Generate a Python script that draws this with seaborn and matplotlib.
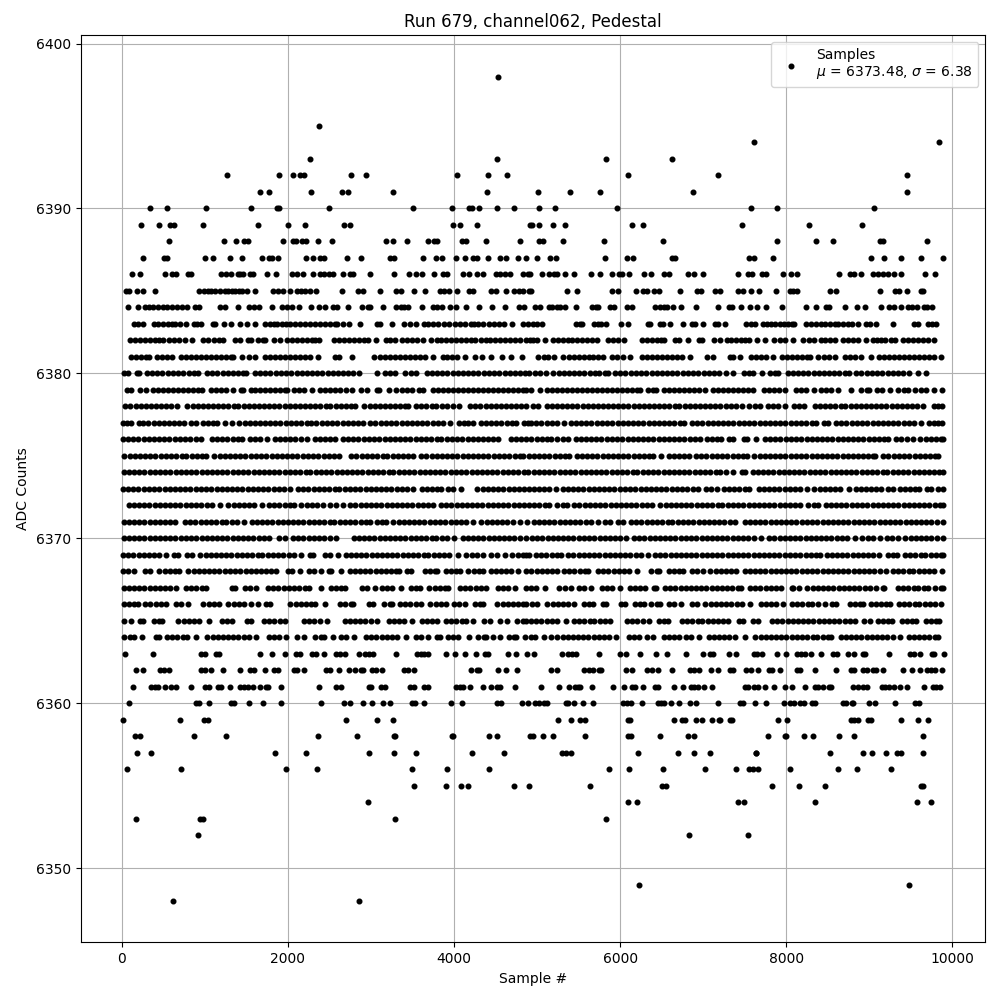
#!/usr/bin/env python3
# coding=utf-8
from matplotlib import pyplot as plt
import pandas as pd
import seaborn as sns

# sample numbers, one list per ADC level
adc_6398 = [4527]
adc_6395 = [2374]
adc_6394 = [7607, 9844]
adc_6393 = [2265, 4515, 5826, 6620]
adc_6392 = [1267, 1892, 2061, 2145, 2193, 2758, 2939, 4034, 4407, 4635, 6091, 7174, 9459]
adc_6391 = [1664, 1772, 2277, 2650, 2722, 3264, 4395, 5008, 5393, 5754, 6873, 9459]
adc_6390 = [340, 545, 1014, 1556, 1868, 1892, 2494, 3504, 3974, 4178, 4214, 4298, 4519, 4720,
            5020, 5213, 5959, 7571, 7895, 9062]
adc_6389 = [232, 449, 581, 629, 978, 1640, 2001, 2205, 2674, 2746, 3986, 4070, 4274, 4912, 4936,
            5020, 5189, 5333, 6139, 6271, 7462, 8280, 8918]
adc_6388 = [569, 1231, 1375, 1471, 1519, 1941, 2061, 2097, 2169, 2217, 2361, 2530, 3180, 3264,
            3432, 3685, 3757, 3793, 4094, 4142, 4383, 4791, 5020, 5068, 5309, 5802, 6512, 7895,
            8353, 8569, 9130, 9170, 9700]
adc_6387 = [256, 509, 545, 1002, 1098, 1303, 1447, 1688, 1772, 1808, 1880, 2217, 2301, 2385, 2434,
            2710, 2879, 3228, 3276, 3625, 3781, 3853, 4022, 4130, 4226, 4274, 4407, 4551, 4623,
            4767, 4864, 4996, 5160, 5225, 5814, 6079, 6151, 6620, 6656, 7547, 7607, 7847, 9026,
            9183, 9383, 9628, 9893]
adc_6386 = [128, 220, 519, 607, 650, 795, 835, 1191, 1260, 1315, 1400, 1420, 1459, 1540, 1580,
            1755, 1855, 2055, 2107, 2187, 2307, 2390, 2440, 2490, 2545, 2667, 2747, 2787, 2987,
            3279, 3459, 3543, 3615, 3759, 3867, 3919, 4107, 4179, 4275, 4355, 4507, 4560, 4610,
            4680, 4827, 4887, 4920, 5064, 5140, 5200, 5240, 5333, 5441, 5646, 5754, 5898, 5983,
            6023, 6103, 6283, 6368, 6524, 6584, 6813, 6885, 6993, 7414, 7535, 7583, 7703, 7751,
            7956, 8052, 8136, 8641, 8774, 8822, 8906, 9050, 9110, 9170, 9230, 9303, 9383, 9676,
            9796]
adc_6385 = [47, 90, 180, 260, 400, 935, 985, 1035, 1070, 1119, 1187, 1240, 1280, 1330, 1370, 1410,
            1450, 1507, 1607, 1827, 1880, 1945, 2027, 2107, 2160, 2210, 2270, 2345, 2655, 2847,
            2907, 3111, 3307, 3367, 3519, 3651, 3827, 3885, 3945, 4035, 4179, 4227, 4447, 4510,
            4627, 4727, 4780, 4827, 4907, 4932, 5360, 5476, 5908, 5972, 6196, 6280, 6320, 6412,
            6468, 6724, 6928, 6980, 7144, 7200, 7420, 7480, 7576, 7672, 7876, 8044, 8080, 8128,
            8524, 8596, 9124, 9304, 9360, 9460, 9620, 9648]
adc_6384 = [75, 195, 280, 330, 380, 435, 500, 550, 600, 660, 730, 790, 880, 930, 1180, 1247, 1403,
            1530, 1590, 1647, 1815, 1931, 1990, 2050, 2131, 2283, 2379, 2451, 2543, 2590, 2727,
            2895, 2960, 2991, 3147, 3303, 3360, 3400, 3451, 3615, 3743, 3800, 3860, 3951, 4023,
            4147, 4307, 4455, 4611, 4783, 4839, 4980, 5040, 5140, 5185, 5240, 5280, 5340, 5468,
            5660, 5708, 5740, 5880, 5928, 6088, 6140, 6420, 6475, 6530, 6560, 6640, 6736, 6916,
            7180, 7312, 7352, 7460, 7564, 7648, 7756, 7948, 8236, 8360, 8480, 8512, 8708, 8848,
            8944, 9136, 9240, 9300, 9380, 9464, 9520, 9580, 9660, 9700, 9760]
adc_6383 = [143, 200, 251, 383, 440, 500, 560, 600, 645, 700, 770, 871, 907, 955, 1103, 1127, 1231,
            1311, 1423, 1507, 1599, 1723, 1780, 1830, 1875, 1925, 1975, 2030, 2090, 2150, 2210,
            2270, 2330, 2390, 2450, 2510, 2570, 2590, 2663, 2731, 2871, 3071, 3110, 3255, 3403,
            3470, 3539, 3635, 3690, 3750, 3810, 3880, 3939, 4010, 4070, 4130, 4200, 4247, 4287,
            4347, 4419, 4483, 4540, 4600, 4700, 4827, 4887, 4950, 5000, 5065, 5464, 5520, 5544,
            5690, 5730, 5770, 5830, 6008, 6100, 6336, 6356, 6476, 6516, 6604, 6760, 6860, 6900,
            7000, 7140, 7180, 7260, 7512, 7580, 7630, 7720, 7770, 7820, 7870, 7920, 7970, 8020,
            8075, 8090, 8240, 8300, 8360, 8420, 8470, 8530, 8590, 8625, 8680, 8740, 8790, 8860,
            8960, 9010, 9080, 9280, 9536, 9590, 9710, 9750, 9800]
adc_6382 = [95, 155, 215, 275, 335, 395, 455, 500, 570, 630, 690, 765, 843, 983, 1045, 1110, 1170,
            1225, 1367, 1425, 1523, 1551, 1643, 1700, 1731, 1835, 1911, 1990, 2050, 2110, 2170,
            2230, 2290, 2330, 2379, 2555, 2620, 2680, 2740, 2800, 2860, 2920, 2971, 3063, 3181,
            3235, 3287, 3375, 3440, 3500, 3560, 3630, 3727, 3790, 3850, 3910, 3970, 4030, 4090,
            4150, 4200, 4255, 4320, 4380, 4440, 4500, 4560, 4610, 4680, 4740, 4800, 4870, 4910,
            4950, 5000, 5092, 5190, 5250, 5310, 5370, 5420, 5480, 5540, 5600, 5660, 5720, 5856,
            5910, 5970, 6052, 6264, 6320, 6380, 6440, 6490, 6532, 6660, 6710, 6820, 6950, 6990,
            7128, 7200, 7290, 7340, 7400, 7460, 7510, 7550, 7652, 7744, 7852, 7920, 7980, 8080,
            8200, 8280, 8340, 8420, 8470, 8528, 8592, 8680, 8740, 8800, 8860, 8960, 9040, 9090,
            9140, 9190, 9260, 9310, 9410, 9470, 9530, 9590, 9650, 9712, 9780]
adc_6381 = [111, 170, 230, 290, 333, 423, 490, 551, 611, 711, 770, 830, 890, 950, 1010, 1070, 1130,
            1190, 1250, 1310, 1343, 1443, 1535, 1610, 1727, 1787, 1847, 1907, 1967, 2027, 2087,
            2147, 2207, 2267, 2367, 2563, 2611, 2767, 3043, 3110, 3170, 3230, 3290, 3350, 3410,
            3470, 3530, 3590, 3650, 3751, 3863, 3920, 3980, 4040, 4130, 4251, 4343, 4451, 4575,
            4691, 4819, 5016, 5080, 5130, 5200, 5316, 5380, 5440, 5500, 5560, 5620, 5680, 5740,
            5796, 5900, 5968, 6040, 6120, 6264, 6330, 6390, 6450, 6510, 6570, 6630, 6690, 6750,
            6844, 7052, 7120, 7320, 7360, 7440, 7576, 7640, 7700, 7760, 7836, 7948, 8010, 8070,
            8130, 8190, 8250, 8284, 8388, 8450, 8510, 8584, 8704, 8770, 8830, 8896, 9016, 9116,
            9180, 9240, 9300, 9360, 9420, 9480, 9540, 9600, 9660, 9720, 9780, 9864]
adc_6380 = [23, 80, 183, 212, 304, 365, 430, 490, 555, 615, 680, 740, 805, 865, 913, 1026, 1090,
            1150, 1215, 1275, 1340, 1400, 1460, 1495, 1603, 1665, 1730, 1790, 1855, 1915, 1980,
            2040, 2105, 2165, 2230, 2290, 2355, 2415, 2480, 2540, 2605, 2665, 2730, 2790, 2851,
            3070, 3175, 3235, 3291, 3415, 3480, 3543, 3671, 3735, 3795, 3860, 3920, 3985, 4045,
            4110, 4170, 4235, 4295, 4360, 4420, 4485, 4545, 4610, 4670, 4735, 4795, 4860, 4907,
            4970, 5030, 5110, 5196, 5260, 5320, 5385, 5445, 5510, 5570, 5635, 5695, 5744, 5824,
            5856, 5940, 6005, 6065, 6130, 6190, 6255, 6315, 6380, 6440, 6505, 6565, 6630, 6690,
            6755, 6815, 6880, 6940, 7005, 7065, 7130, 7190, 7280, 7364, 7488, 7550, 7604, 7704,
            7804, 7860, 7904, 8016, 8080, 8140, 8205, 8265, 8330, 8390, 8455, 8515, 8580, 8640,
            8705, 8756, 8844, 8905, 8970, 9030, 9095, 9155, 9220, 9280, 9345, 9405, 9484, 9590,
            9684]
adc_6379 = [63, 111, 215, 290, 375, 435, 495, 555, 615, 675, 735, 795, 855, 915, 971, 1071, 1130,
            1190, 1250, 1343, 1431, 1463, 1551, 1610, 1670, 1730, 1790, 1850, 1910, 1970, 1991,
            2075, 2140, 2200, 2291, 2391, 2450, 2510, 2570, 2630, 2700, 2771, 2883, 2959, 3071,
            3103, 3220, 3303, 3370, 3430, 3491, 3575, 3631, 3743, 3810, 3870, 3930, 3990, 4050,
            4110, 4170, 4230, 4290, 4350, 4410, 4470, 4530, 4590, 4650, 4710, 4770, 4830, 4871,
            4930, 5040, 5116, 5180, 5240, 5300, 5360, 5420, 5480, 5540, 5600, 5660, 5720, 5780,
            5840, 5900, 5960, 6020, 6080, 6140, 6200, 6244, 6336, 6400, 6436, 6528, 6590, 6650,
            6710, 6770, 6830, 6890, 6950, 7024, 7116, 7180, 7240, 7300, 7360, 7420, 7480, 7540,
            7604, 7728, 7790, 7850, 7910, 7984, 8116, 8180, 8240, 8332, 8416, 8480, 8540, 8624,
            8780, 8896, 8976, 8996, 9088, 9150, 9252, 9348, 9420, 9464, 9556, 9620, 9680, 9784,
            9880]
adc_6378 = [43, 105, 168, 227, 292, 351, 415, 474, 538, 597, 663, 791, 853, 914, 978, 1037, 1101,
            1160, 1224, 1283, 1347, 1406, 1470, 1529, 1593, 1652, 1716, 1775, 1839, 1898, 1962,
            2021, 2085, 2144, 2208, 2267, 2331, 2390, 2454, 2513, 2577, 2636, 2700, 2759, 2811,
            2923, 2987, 3046, 3110, 3169, 3233, 3292, 3356, 3415, 3451, 3543, 3607, 3666, 3730,
            3789, 3853, 3912, 3983, 4059, 4195, 4259, 4318, 4382, 4441, 4505, 4564, 4628, 4687,
            4751, 4810, 4871, 4950, 5016, 5116, 5180, 5239, 5303, 5362, 5426, 5485, 5549, 5608,
            5672, 5731, 5795, 5854, 5918, 5977, 6041, 6100, 6164, 6223, 6287, 6346, 6410, 6469,
            6533, 6592, 6656, 6715, 6779, 6838, 6902, 6961, 7025, 7084, 7148, 7207, 7271, 7330,
            7394, 7464, 7556, 7620, 7684, 7776, 7840, 7899, 7984, 8096, 8160, 8216, 8344, 8408,
            8467, 8531, 8590, 8654, 8713, 8777, 8836, 8900, 8959, 9023, 9082, 9146, 9205, 9269,
            9328, 9392, 9451, 9515, 9574, 9644, 9784, 9830, 9876]
adc_6377 = [15, 62, 111, 203, 262, 320, 385, 445, 510, 570, 630, 695, 755, 831, 900, 983, 1045,
            1100, 1151, 1247, 1327, 1415, 1480, 1540, 1600, 1665, 1725, 1790, 1850, 1910, 1975,
            2035, 2100, 2160, 2225, 2285, 2345, 2410, 2470, 2535, 2595, 2660, 2720, 2785, 2845,
            2911, 2995, 3055, 3120, 3180, 3245, 3305, 3370, 3430, 3495, 3555, 3620, 3680, 3745,
            3805, 3870, 3951, 4055, 4115, 4175, 4231, 4323, 4385, 4445, 4510, 4570, 4635, 4695,
            4743, 4843, 4890, 4930, 4990, 5050, 5115, 5175, 5240, 5324, 5408, 5470, 5530, 5595,
            5655, 5720, 5780, 5845, 5905, 5970, 6030, 6095, 6155, 6220, 6280, 6345, 6405, 6470,
            6530, 6595, 6655, 6720, 6764, 6868, 6930, 6990, 7055, 7115, 7180, 7240, 7305, 7365,
            7430, 7490, 7555, 7615, 7680, 7740, 7805, 7865, 7930, 7990, 8055, 8115, 8180, 8240,
            8305, 8356, 8456, 8504, 8604, 8665, 8725, 8790, 8850, 8915, 8975, 9040, 9100, 9165,
            9225, 9290, 9350, 9415, 9475, 9544, 9628, 9716, 9780, 9830, 9876]
adc_6376 = [15, 75, 140, 200, 265, 325, 390, 450, 515, 575, 640, 700, 765, 825, 890, 959, 1083,
            1145, 1210, 1270, 1335, 1395, 1451, 1547, 1610, 1670, 1751, 1840, 1903, 1965, 2030,
            2090, 2155, 2231, 2323, 2385, 2450, 2510, 2571, 2663, 2725, 2790, 2850, 2915, 2975,
            3040, 3100, 3165, 3225, 3290, 3350, 3415, 3475, 3540, 3600, 3665, 3725, 3790, 3850,
            3915, 3975, 4040, 4100, 4165, 4225, 4290, 4350, 4415, 4475, 4531, 4683, 4745, 4810,
            4871, 4930, 4995, 5055, 5120, 5164, 5244, 5310, 5372, 5464, 5525, 5590, 5650, 5715,
            5775, 5840, 5900, 5965, 6025, 6090, 6150, 6215, 6275, 6340, 6400, 6465, 6525, 6590,
            6650, 6715, 6775, 6840, 6900, 6964, 7044, 7105, 7165, 7212, 7316, 7364, 7488, 7532,
            7640, 7744, 7805, 7870, 7930, 7995, 8055, 8120, 8180, 8245, 8305, 8370, 8430, 8495,
            8555, 8620, 8680, 8745, 8805, 8870, 8930, 8995, 9055, 9120, 9180, 9224, 9324, 9385,
            9450, 9524, 9616, 9680, 9740, 9805, 9860, 9892]
adc_6375 = [31, 95, 155, 220, 280, 345, 405, 470, 530, 595, 655, 720, 780, 845, 905, 970, 1019,
            1115, 1180, 1240, 1305, 1365, 1430, 1490, 1555, 1615, 1680, 1740, 1805, 1865, 1930,
            1990, 2055, 2115, 2180, 2240, 2305, 2365, 2430, 2490, 2555, 2611, 2763, 2825, 2890,
            2950, 3015, 3075, 3140, 3200, 3265, 3325, 3390, 3450, 3503, 3603, 3665, 3730, 3790,
            3855, 3915, 3980, 4040, 4105, 4165, 4230, 4290, 4355, 4415, 4480, 4540, 4605, 4665,
            4730, 4790, 4831, 4900, 4965, 5025, 5090, 5150, 5215, 5275, 5340, 5384, 5476, 5540,
            5600, 5665, 5725, 5790, 5850, 5915, 5975, 6040, 6100, 6165, 6225, 6290, 6350, 6396,
            6490, 6588, 6650, 6715, 6775, 6824, 6916, 6980, 7040, 7105, 7165, 7230, 7290, 7355,
            7415, 7480, 7532, 7616, 7680, 7740, 7805, 7865, 7930, 7990, 8055, 8115, 8180, 8240,
            8305, 8365, 8430, 8490, 8555, 8615, 8680, 8740, 8805, 8865, 8930, 8990, 9040, 9072,
            9168, 9230, 9295, 9355, 9420, 9480, 9545, 9605, 9670, 9730, 9795, 9832]
adc_6374 = [23, 88, 147, 214, 271, 339, 398, 463, 522, 587, 648, 713, 772, 838, 897, 963, 1022,
            1088, 1147, 1213, 1272, 1338, 1397, 1463, 1522, 1588, 1647, 1713, 1772, 1838, 1897,
            1963, 2022, 2088, 2147, 2213, 2272, 2338, 2397, 2463, 2522, 2588, 2647, 2713, 2772,
            2838, 2897, 2963, 3022, 3088, 3147, 3213, 3272, 3338, 3397, 3463, 3522, 3588, 3647,
            3713, 3772, 3838, 3897, 3963, 4022, 4088, 4147, 4213, 4272, 4338, 4397, 4463, 4522,
            4588, 4647, 4713, 4772, 4838, 4897, 4960, 5025, 5084, 5150, 5209, 5275, 5334, 5400,
            5459, 5525, 5584, 5650, 5709, 5775, 5834, 5900, 5959, 6025, 6084, 6150, 6209, 6275,
            6334, 6400, 6459, 6525, 6584, 6650, 6709, 6775, 6834, 6900, 6959, 7025, 7084, 7150,
            7209, 7275, 7364, 7464, 7504, 7596, 7660, 7719, 7785, 7844, 7910, 7969, 8035, 8094,
            8160, 8219, 8285, 8344, 8410, 8469, 8535, 8594, 8660, 8719, 8785, 8844, 8910, 8969,
            9035, 9094, 9160, 9219, 9285, 9344, 9410, 9469, 9535, 9594, 9660, 9719, 9785, 9844,
            9884]
adc_6373 = [15, 78, 141, 202, 267, 328, 393, 452, 517, 578, 643, 702, 767, 828, 893, 952, 1017,
            1078, 1143, 1202, 1267, 1328, 1393, 1452, 1517, 1578, 1643, 1702, 1767, 1828, 1893,
            1952, 2023, 2123, 2186, 2247, 2312, 2371, 2436, 2497, 2562, 2621, 2686, 2747, 2812,
            2871, 2936, 2997, 3062, 3121, 3186, 3247, 3312, 3371, 3436, 3503, 3615, 3680, 3735,
            3791, 3847, 3923, 3985, 4079, 4283, 4348, 4407, 4472, 4531, 4596, 4657, 4722, 4781,
            4846, 4907, 4960, 5024, 5085, 5150, 5224, 5308, 5372, 5431, 5496, 5557, 5622, 5681,
            5746, 5807, 5872, 5931, 5996, 6057, 6122, 6181, 6246, 6307, 6372, 6431, 6496, 6557,
            6622, 6681, 6746, 6807, 6872, 6944, 7036, 7100, 7164, 7248, 7310, 7375, 7434, 7499,
            7552, 7668, 7731, 7790, 7855, 7916, 7981, 8040, 8105, 8166, 8252, 8340, 8403, 8464,
            8529, 8588, 8653, 8752, 8836, 8900, 8961, 9026, 9085, 9144, 9228, 9284, 9368, 9431,
            9490, 9555, 9604, 9696, 9744, 9828, 9884]
adc_6372 = [83, 146, 207, 272, 331, 396, 457, 522, 581, 646, 707, 772, 831, 896, 957, 1022, 1091,
            1183, 1283, 1346, 1407, 1472, 1531, 1596, 1691, 1775, 1838, 1899, 1964, 2023, 2071,
            2163, 2226, 2287, 2352, 2423, 2511, 2574, 2663, 2751, 2814, 2875, 2940, 2999, 3064,
            3125, 3190, 3249, 3314, 3375, 3440, 3499, 3564, 3625, 3690, 3743, 3843, 3906, 3967,
            4032, 4091, 4156, 4217, 4282, 4341, 4406, 4467, 4532, 4591, 4656, 4717, 4782, 4841,
            4907, 4965, 5026, 5091, 5150, 5236, 5316, 5364, 5448, 5511, 5572, 5637, 5696, 5761,
            5822, 5887, 5946, 6011, 6072, 6137, 6196, 6261, 6322, 6384, 6484, 6547, 6608, 6673,
            6732, 6797, 6858, 6923, 6982, 7047, 7108, 7173, 7232, 7297, 7358, 7423, 7482, 7547,
            7608, 7673, 7732, 7797, 7858, 7923, 7982, 8047, 8108, 8164, 8268, 8331, 8384, 8476,
            8539, 8600, 8665, 8724, 8789, 8850, 8915, 8974, 9039, 9100, 9165, 9224, 9289, 9350,
            9415, 9474, 9539, 9600, 9665, 9724, 9789, 9850, 9892]
adc_6371 = [23, 86, 147, 212, 271, 336, 397, 462, 521, 586, 643, 763, 826, 887, 952, 1011, 1076,
            1137, 1202, 1261, 1326, 1387, 1471, 1563, 1626, 1687, 1752, 1811, 1876, 1937, 2002,
            2061, 2126, 2187, 2252, 2311, 2376, 2437, 2502, 2561, 2626, 2687, 2752, 2811, 2876,
            2937, 2991, 3071, 3130, 3183, 3271, 3334, 3395, 3460, 3519, 3584, 3645, 3710, 3769,
            3834, 3895, 3960, 4019, 4084, 4145, 4231, 4331, 4394, 4455, 4520, 4579, 4644, 4705,
            4791, 4883, 4960, 5021, 5086, 5145, 5210, 5271, 5336, 5395, 5460, 5521, 5586, 5645,
            5732, 5816, 5884, 5980, 6040, 6132, 6196, 6257, 6322, 6381, 6446, 6507, 6572, 6631,
            6696, 6757, 6822, 6881, 6946, 7007, 7072, 7131, 7196, 7257, 7322, 7381, 7500, 7563,
            7624, 7689, 7748, 7813, 7874, 7939, 7998, 8063, 8124, 8189, 8248, 8313, 8374, 8439,
            8498, 8563, 8624, 8689, 8748, 8813, 8874, 8939, 8998, 9063, 9124, 9189, 9248, 9313,
            9374, 9439, 9498, 9563, 9624, 9689, 9748, 9813, 9892]
adc_6370 = [23, 86, 147, 212, 271, 336, 397, 462, 521, 586, 647, 712, 771, 836, 897, 962, 1021,
            1086, 1147, 1212, 1271, 1336, 1397, 1462, 1521, 1586, 1647, 1712, 1771, 1895, 1971,
            2063, 2126, 2187, 2252, 2311, 2376, 2437, 2502, 2583, 2791, 2854, 2915, 2980, 3039,
            3104, 3165, 3230, 3289, 3354, 3415, 3480, 3539, 3604, 3665, 3730, 3789, 3854, 3919,
            4000, 4103, 4166, 4227, 4292, 4351, 4416, 4477, 4542, 4601, 4666, 4727, 4792, 4871,
            4940, 5003, 5064, 5129, 5188, 5253, 5314, 5379, 5438, 5503, 5564, 5629, 5688, 5753,
            5814, 5879, 5938, 6003, 6076, 6168, 6231, 6292, 6357, 6416, 6481, 6542, 6607, 6666,
            6731, 6792, 6857, 6916, 6981, 7042, 7107, 7166, 7231, 7292, 7357, 7416, 7481, 7542,
            7607, 7692, 7796, 7859, 7920, 7985, 8044, 8109, 8170, 8235, 8294, 8359, 8420, 8485,
            8544, 8609, 8670, 8735, 8824, 8916, 8979, 9040, 9124, 9216, 9279, 9344, 9436, 9499,
            9560, 9625, 9684, 9749, 9810, 9884]
adc_6369 = [15, 78, 139, 204, 263, 328, 389, 454, 531, 635, 683, 791, 851, 947, 1010, 1071, 1136,
            1195, 1260, 1321, 1386, 1445, 1510, 1571, 1636, 1695, 1760, 1821, 1886, 1945, 2010,
            2071, 2159, 2263, 2303, 2443, 2506, 2599, 2695, 2758, 2819, 2884, 2943, 3008, 3069,
            3134, 3193, 3258, 3319, 3384, 3443, 3508, 3569, 3634, 3693, 3758, 3819, 3884, 3943,
            4051, 4151, 4214, 4275, 4351, 4451, 4514, 4611, 4703, 4766, 4827, 4871, 4900, 4988,
            5051, 5112, 5177, 5236, 5284, 5376, 5439, 5500, 5565, 5624, 5689, 5750, 5815, 5874,
            5939, 6000, 6065, 6124, 6189, 6250, 6332, 6420, 6483, 6544, 6609, 6668, 6733, 6794,
            6859, 6918, 6983, 7044, 7109, 7168, 7233, 7294, 7359, 7418, 7483, 7544, 7609, 7668,
            7733, 7794, 7859, 7918, 7983, 8044, 8109, 8168, 8233, 8294, 8359, 8404, 8488, 8551,
            8612, 8677, 8736, 8801, 8862, 8927, 8986, 9051, 9116, 9220, 9283, 9336, 9428, 9491,
            9552, 9617, 9676, 9741, 9802, 9867, 9892]
adc_6368 = [15, 80, 143, 283, 343, 455, 518, 579, 644, 691, 803, 866, 927, 992, 1051, 1116, 1177,
            1242, 1301, 1366, 1427, 1492, 1551, 1616, 1677, 1742, 1801, 1859, 2003, 2051, 2150,
            2255, 2318, 2399, 2495, 2519, 2640, 2743, 2806, 2867, 2932, 2991, 3056, 3117, 3182,
            3241, 3306, 3343, 3431, 3479, 3647, 3710, 3771, 3799, 3903, 3966, 4027, 4071, 4175,
            4238, 4299, 4351, 4443, 4506, 4567, 4632, 4691, 4770, 4870, 4932, 4995, 5056, 5121,
            5180, 5244, 5324, 5387, 5448, 5513, 5572, 5616, 5736, 5799, 5860, 5925, 5984, 6049,
            6110, 6204, 6376, 6439, 6464, 6588, 6651, 6712, 6756, 6864, 6927, 7004, 7088, 7151,
            7212, 7277, 7336, 7392, 7500, 7563, 7624, 7689, 7748, 7813, 7874, 7939, 7998, 8063,
            8124, 8189, 8248, 8313, 8374, 8439, 8498, 8563, 8624, 8689, 8748, 8813, 8874, 8939,
            8998, 9063, 9124, 9196, 9284, 9347, 9408, 9473, 9532, 9597, 9658, 9723, 9782, 9876]
adc_6367 = [23, 86, 147, 212, 271, 336, 397, 462, 521, 586, 651, 775, 838, 899, 964, 1011, 1327,
            1363, 1483, 1546, 1619, 1763, 1826, 1887, 1952, 2011, 2076, 2137, 2202, 2251, 2400,
            2519, 2582, 2643, 2691, 2887, 2950, 3051, 3135, 3198, 3259, 3363, 3483, 3546, 3591,
            3703, 3766, 3827, 3892, 3931, 4075, 4138, 4199, 4264, 4323, 4391, 4531, 4594, 4655,
            4739, 4870, 4930, 4984, 5100, 5268, 5331, 5404, 5508, 5571, 5652, 5784, 5847, 5908,
            6004, 6116, 6179, 6240, 6304, 6408, 6436, 6540, 6603, 6664, 6729, 6788, 6853, 6914,
            6979, 7038, 7103, 7164, 7229, 7288, 7353, 7414, 7452, 7564, 7627, 7688, 7753, 7812,
            7877, 7932, 8064, 8084, 8160, 8256, 8319, 8380, 8445, 8504, 8569, 8630, 8695, 8754,
            8819, 8880, 8945, 9004, 9084, 9164, 9176, 9344, 9407, 9468, 9533, 9592, 9657, 9712,
            9796, 9859, 9884]
adc_6366 = [23, 86, 147, 191, 283, 346, 407, 472, 539, 655, 718, 799, 983, 1046, 1107, 1171, 1283,
            1346, 1407, 1472, 1551, 1640, 1735, 1783, 2031, 2094, 2155, 2220, 2279, 2323, 2450,
            2631, 2694, 2755, 2783, 2975, 3023, 3163, 3226, 3251, 3351, 3414, 3475, 3540, 3599,
            3715, 3778, 3839, 3903, 4003, 4066, 4131, 4255, 4318, 4351, 4523, 4586, 4647, 4712,
            4771, 4836, 4871, 4940, 5004, 5124, 5187, 5248, 5313, 5372, 5444, 5568, 5631, 5672,
            5796, 5836, 6012, 6064, 6180, 6243, 6284, 6376, 6439, 6484, 6588, 6651, 6732, 6860,
            6924, 7028, 7091, 7152, 7217, 7276, 7341, 7402, 7467, 7564, 7692, 7755, 7816, 7881,
            7964, 8068, 8131, 8192, 8257, 8316, 8381, 8464, 8556, 8604, 8768, 8831, 8892, 8924,
            9016, 9079, 9140, 9205, 9244, 9356, 9419, 9480, 9545, 9604, 9669, 9730, 9795, 9864]
adc_6365 = [31, 115, 215, 251, 383, 446, 491, 683, 746, 807, 872, 931, 1051, 1203, 1266, 1331,
            1503, 1551, 1715, 1778, 1839, 1904, 1971, 2195, 2258, 2319, 2384, 2471, 2683, 2746,
            2807, 2872, 2931, 2996, 3071, 3215, 3278, 3339, 3404, 3491, 3615, 3678, 3739, 3791,
            3903, 3966, 4027, 4092, 4151, 4231, 4363, 4431, 4550, 4635, 4763, 4826, 4871, 4930,
            4993, 5054, 5119, 5178, 5243, 5344, 5444, 5507, 5568, 5633, 5692, 5757, 5818, 5884,
            6084, 6147, 6208, 6273, 6344, 6468, 6531, 6576, 6744, 6807, 6868, 6933, 6992, 7057,
            7118, 7183, 7242, 7304, 7428, 7484, 7604, 7664, 7828, 7891, 7952, 8017, 8076, 8141,
            8202, 8267, 8326, 8391, 8452, 8517, 8576, 8641, 8702, 8767, 8824, 8936, 9004, 9104,
            9167, 9228, 9272, 9396, 9459, 9520, 9564, 9684, 9747, 9808, 9844]
adc_6364 = [31, 94, 151, 250, 415, 451, 543, 606, 667, 732, 791, 899, 1031, 1094, 1155, 1220, 1279,
            1344, 1405, 1470, 1529, 1611, 1775, 1838, 1891, 1980, 2110, 2200, 2331, 2394, 2431,
            2540, 2639, 2702, 2791, 2943, 3006, 3067, 3132, 3191, 3256, 3317, 3419, 3543, 3606,
            3691, 3795, 3831, 3931, 3994, 4043, 4179, 4295, 4358, 4383, 4470, 4560, 4663, 4726,
            4751, 4860, 4930, 4972, 5088, 5164, 5244, 5307, 5368, 5433, 5492, 5557, 5618, 5683,
            5742, 5807, 5868, 5956, 6108, 6171, 6224, 6324, 6396, 6524, 6587, 6648, 6704, 6788,
            6856, 6950, 7068, 7131, 7192, 7257, 7316, 7384, 7510, 7628, 7691, 7752, 7817, 7876,
            7941, 8002, 8067, 8126, 8191, 8252, 8317, 8376, 8441, 8502, 8544, 8656, 8719, 8780,
            8845, 8904, 8969, 9030, 9095, 9154, 9219, 9280, 9372, 9476, 9539, 9600, 9665, 9724,
            9789, 9824]
adc_6363 = [40, 377, 950, 1000, 1134, 1170, 1664, 1808, 1965, 2097, 2145, 2289, 2337, 2434, 2578,
            2630, 2694, 2855, 2927, 2975, 3024, 3304, 3552, 3600, 3640, 3689, 3901, 4010, 4130,
            4262, 4375, 4411, 4647, 4744, 4880, 4960, 5305, 5368, 5420, 5469, 5742, 6003, 6075,
            6235, 6436, 6564, 6789, 6997, 7080, 7117, 7306, 7398, 7607, 7650, 7707, 7895, 7996,
            8136, 8180, 8232, 8296, 8421, 8569, 8616, 8742, 8822, 8930, 8952, 9243, 9491, 9540,
            9612, 9752, 9780, 9896]
adc_6362 = [172, 256, 461, 510, 569, 954, 1000, 1074, 1223, 1419, 1544, 1590, 1724, 1832, 1880,
            2073, 2107, 2193, 2458, 2506, 2614, 2734, 2806, 2875, 2907, 3011, 3067, 3131, 3396,
            3447, 3516, 4202, 4278, 4307, 4527, 4627, 4764, 5169, 5241, 5562, 5620, 5680, 5742,
            5768, 6075, 6143, 6319, 6380, 6460, 6620, 6845, 6888, 6945, 7089, 7174, 7326, 7360,
            7522, 7576, 7655, 7787, 7832, 7920, 8128, 8168, 8341, 8601, 8782, 8820, 8930, 8968,
            9040, 9080, 9170, 9411, 9520, 9616, 9700, 9740, 9792, 9872]
adc_6361 = [140, 349, 397, 437, 521, 593, 653, 834, 1002, 1050, 1159, 1195, 1303, 1423, 1470, 1519,
            1580, 1664, 1736, 1763, 1916, 2374, 2578, 2638, 2975, 3003, 3119, 3167, 3468, 3516,
            3637, 3685, 4022, 4070, 4107, 4190, 4346, 4443, 4515, 4551, 4732, 5044, 5261, 5381,
            5453, 5492, 5521, 5658, 5910, 6043, 6139, 6180, 6271, 6416, 6460, 6644, 6753, 6849,
            6892, 6940, 7005, 7101, 7506, 7540, 7608, 7660, 7747, 7855, 7980, 8064, 8232, 8341,
            8380, 8449, 8521, 8540, 8810, 8860, 8920, 8970, 9150, 9192, 9240, 9300, 9371, 9459,
            9664, 9772, 9800, 9852]
adc_6360 = [88, 894, 930, 1050, 1315, 1351, 1531, 1696, 1916, 2398, 2674, 2746, 2903, 3011, 3143,
            3228, 3492, 3528, 3637, 3961, 4094, 4515, 4563, 4816, 4888, 4980, 5020, 5080, 5120,
            5345, 5370, 5441, 5550, 5670, 6031, 6080, 6135, 6259, 6452, 6490, 6532, 6608, 6704,
            6837, 6909, 7174, 7438, 7474, 7619, 7751, 7968, 8048, 8090, 8172, 8212, 8308, 8352,
            8689, 8720, 8790, 8802, 9002, 9074, 9315, 9555, 9604]
adc_6359 = [16, 701, 990, 1038, 2698, 3071, 3264, 5257, 5405, 5521, 5582, 6091, 6120, 6644, 6745,
            6780, 6909, 6981, 7101, 7186, 7208, 7326, 7352, 7907, 8004, 8786, 8812, 8870, 8990,
            9020, 9387, 9592, 9712]
adc_6358 = [156, 220, 870, 1255, 2361, 2831, 3276, 3292, 3974, 3990, 4419, 4515, 4912, 4948, 5068,
            5189, 5574, 6091, 6136, 6476, 6813, 6885, 7775, 7980, 8000, 8220, 8317, 8641, 8822,
            9652]
adc_6357 = [184, 353, 1844, 2217, 2975, 3276, 3540, 4214, 4599, 5297, 5352, 5409, 6211, 6692, 6885,
            7077, 7631, 7640, 8533, 8930, 9038, 9207, 9339, 9387, 9652]
adc_6356 = [64, 713, 1977, 2349, 3492, 3913, 4419, 5862, 6103, 6512, 7017, 7390, 7547, 7600, 7655,
            8040, 8629, 8858, 9267]
adc_6355 = [3516, 3901, 4082, 4166, 4720, 4900, 5634, 6500, 6548, 7835, 8160, 8473, 9620, 9644]
adc_6354 = [2963, 6091, 6199, 7414, 7486, 8341, 9580, 9748]
adc_6353 = [172, 942, 978, 3288, 5826]
adc_6352 = [918, 6825, 7535]
adc_6349 = [6223, 9483]
adc_6348 = [617, 2855]

adc_levels = [6398, 6395, 6394, 6393, 6392, 6391, 6390, 6389, 6388, 6387, 6386, 6385, 6384, 6383,
              6382, 6381, 6380, 6379, 6378, 6377, 6376, 6375, 6374, 6373, 6372, 6371, 6370, 6369,
              6368, 6367, 6366, 6365, 6364, 6363, 6362, 6361, 6360, 6359, 6358, 6357, 6356, 6355,
              6354, 6353, 6352, 6349, 6348]
sample_rows = [adc_6398, adc_6395, adc_6394, adc_6393, adc_6392, adc_6391, adc_6390, adc_6389,
               adc_6388, adc_6387, adc_6386, adc_6385, adc_6384, adc_6383, adc_6382, adc_6381,
               adc_6380, adc_6379, adc_6378, adc_6377, adc_6376, adc_6375, adc_6374, adc_6373,
               adc_6372, adc_6371, adc_6370, adc_6369, adc_6368, adc_6367, adc_6366, adc_6365,
               adc_6364, adc_6363, adc_6362, adc_6361, adc_6360, adc_6359, adc_6358, adc_6357,
               adc_6356, adc_6355, adc_6354, adc_6353, adc_6352, adc_6349, adc_6348]

# long table for seaborn
df = pd.concat([pd.DataFrame({'sample': row, 'adc': level})
                for level, row in zip(adc_levels, sample_rows)])

fig, ax = plt.subplots(figsize=(10, 10))
fig.subplots_adjust(left=0.0805, right=0.9853, top=0.9647, bottom=0.0577)

label = 'Samples\n$\\mu$ = 6373.48, $\\sigma$ = 6.38'
sns.scatterplot(ax=ax, data=df, x='sample', y='adc', marker='.', s=44, color='k',
                edgecolor='k', linewidth=1, zorder=2, label=label)

ax.set_title('Run 679, channel062, Pedestal')
ax.set_xlabel('Sample #')
ax.set_ylabel('ADC Counts')
ax.set_xlim(-496, 10397)
ax.set_ylim(6345.5, 6400.5)
ax.grid(True)
ax.legend(loc='upper right')

plt.savefig('out.png', dpi=100)
